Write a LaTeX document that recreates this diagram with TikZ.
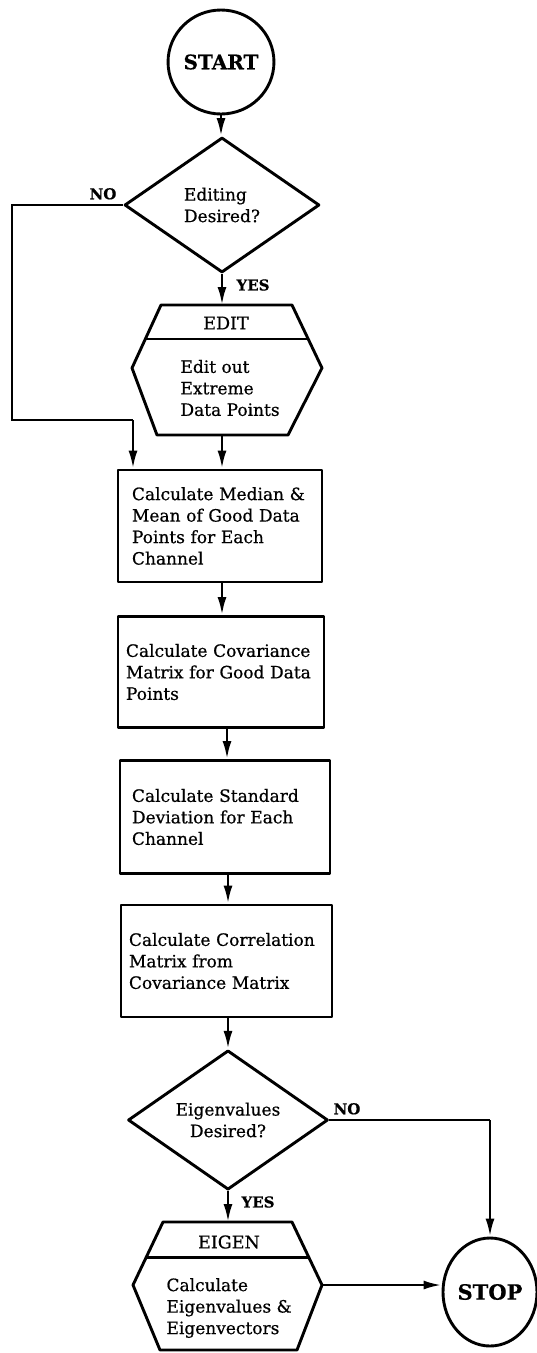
\documentclass[tikz,border=0pt]{standalone}
\usepackage{fontspec}
\setmainfont{DejaVu Serif}[FakeBold=0.6]
\usetikzlibrary{shapes.geometric,arrows.meta,calc}
\begin{document}
\begin{tikzpicture}[x=1pt,y=-1pt,
  outline/.style={draw,line width=2.9pt,line join=round},
  flow/.style={line width=2.6pt,-{Latex[length=18pt,width=9pt]}},
  plain/.style={line width=2.6pt},
  txt/.style={font=\fontsize{17}{21.5}\selectfont},
  boxnode/.style={outline,rectangle,align=left,txt,inner ysep=0pt},
  decision/.style={outline,diamond,inner sep=0pt,txt},
  terminal/.style={outline,ellipse,inner sep=0pt,font=\bfseries\fontsize{20}{20}\selectfont},
  answer/.style={font=\bfseries\fontsize{15}{15}\selectfont},
  title/.style={font=\fontsize{17.5}{17.5}\selectfont}
]
\useasboundingbox (0,0) rectangle (536,1353);

% start and first decision
\node[terminal, minimum width=96pt, minimum height=104pt] (start) at (221,62) {START};
\node[decision, minimum width=195pt, minimum height=135pt, align=left] (edq) at (222,205) {Editing\\Desired?};
\draw[flow] (start.south) -- (start.south |- edq.north);

% EDIT module
\coordinate (e1) at (161,305);
\coordinate (e2) at (292,305);
\coordinate (e3) at (322,368);
\coordinate (e4) at (288,435);
\coordinate (e5) at (157,435);
\coordinate (e6) at (132,368);
\draw[outline] (e1) -- (e2) -- (e3) -- (e4) -- (e5) -- (e6) -- cycle;
\draw[outline] ($(e1)!0.54!(e6)$) -- ($(e2)!0.54!(e3)$);
\node[title] (edittitle) at (226,323) {EDIT};
\node[txt, align=left, anchor=west] (editbody) at (177,388) {Edit out\\Extreme\\Data Points};
\coordinate (edittop) at (222,305);
\coordinate (editbot) at (222,435);
\draw[flow] (edq.south) -- (edittop);
\node[answer, anchor=west] (yes1) at (233,285) {YES};

% processing steps
\node[boxnode, minimum width=204pt, minimum height=112pt, inner xsep=14pt, text width=176pt] (b1) at (220,526)
  {Calculate Median \&\\Mean of Good Data\\Points for Each\\Channel};
\node[boxnode, minimum width=206pt, minimum height=111pt, inner xsep=8pt, text width=190pt] (b2) at (221,672)
  {Calculate Covariance\\Matrix for Good Data\\Points};
\node[boxnode, minimum width=210pt, minimum height=113pt, inner xsep=12pt, text width=186pt] (b3) at (225,817)
  {Calculate Standard\\Deviation for Each\\Channel};
\node[boxnode, minimum width=211pt, minimum height=112pt, inner xsep=8pt, text width=195pt] (b4) at (226.5,961)
  {Calculate Correlation\\Matrix from\\Covariance Matrix};

\draw[flow] (editbot) -- (editbot |- b1.north);
\draw[flow] (b1.south -| 222,0) -- (222,0 |- b2.north);
\draw[flow] (b2.south -| 227,0) -- (227,0 |- b3.north);
\draw[flow] (b3.south -| 228,0) -- (228,0 |- b4.north);

% editing bypass
\coordinate (nocorner) at (12,205);
\coordinate (nojoin) at (133,420);
\draw[plain] (edq.west) -- (nocorner) |- (nojoin);
\draw[flow] (nojoin) -- (nojoin |- b1.north);
\node[answer, anchor=south] (no1) at (103,203) {NO};

% second decision
\node[decision, minimum width=200pt, minimum height=135pt, align=center] (eiq) at (228,1120) {Eigenvalues\\Desired?};
\draw[flow] (b4.south -| eiq.north) -- (eiq.north);

% EIGEN module
\coordinate (g1) at (163,1222);
\coordinate (g2) at (292,1222);
\coordinate (g3) at (322,1285);
\coordinate (g4) at (297,1350);
\coordinate (g5) at (160,1350);
\coordinate (g6) at (133,1285);
\draw[outline] (g1) -- (g2) -- (g3) -- (g4) -- (g5) -- (g6) -- cycle;
\draw[outline] ($(g1)!0.57!(g6)$) -- ($(g2)!0.57!(g3)$);
\node[title] (eigentitle) at (229,1242) {EIGEN};
\node[txt, align=left, anchor=west] (eigenbody) at (163,1308) {Calculate\\Eigenvalues \&\\Eigenvectors};
\coordinate (eigentop) at (228,1222);
\draw[flow] (eiq.south) -- (eigentop);
\node[answer, anchor=west] (yes2) at (238,1202) {YES};

% stop
\node[terminal, minimum width=94pt, minimum height=108pt, font=\bfseries\fontsize{21}{21}\selectfont] (stop) at (490,1292) {STOP};
\draw[flow] (g3) -- (g3 -| stop.west);
\coordinate (nocorner2) at (490,1120);
\draw[plain] (eiq.east) -- (nocorner2);
\draw[flow] (nocorner2) -- (stop.north);
\node[answer, anchor=south] (no2) at (347,1118) {NO};
\end{tikzpicture}
\end{document}
